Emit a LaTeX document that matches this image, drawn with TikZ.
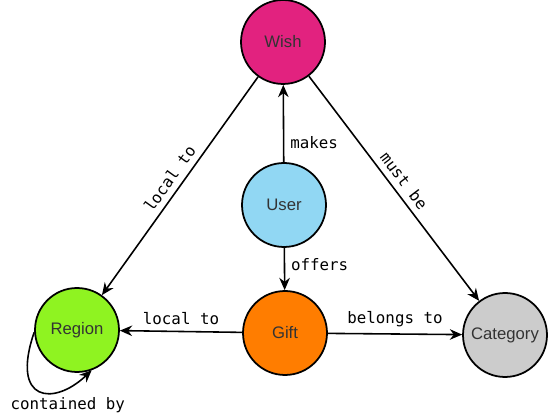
\documentclass[tikz,border=0pt]{standalone}
\usepackage{fontspec}
\setmainfont{Liberation Sans}
\setmonofont{DejaVu Sans Mono}
\usetikzlibrary{arrows.meta}
\definecolor{wishpink}{HTML}{E2227F}
\definecolor{userblue}{HTML}{91D7F3}
\definecolor{giftorange}{HTML}{FF7D00}
\definecolor{regiongreen}{HTML}{8FF321}
\definecolor{categorygray}{HTML}{CCCCCC}
\definecolor{nodetext}{HTML}{333333}

\begin{document}
\begin{tikzpicture}[x=0.02cm, y=0.02cm,
                        entity/.style={circle, draw, line width=1pt, minimum size=1.68cm, inner sep=0pt,
                                       font=\fontsize{9.5}{11}\selectfont, text=nodetext},
                        rel/.style={line width=0.9pt, -{Stealth[length=7pt, width=6pt]}},
                        lbl/.style={font=\ttfamily\fontsize{9}{11}\selectfont}]
                        \useasboundingbox (0,0) rectangle (550,418);
                        \node[entity, fill=wishpink] (wish) at (283,376) {Wish};
                        \node[entity, fill=userblue] (user) at (284,213) {User};
                        \node[entity, fill=giftorange] (gift) at (285,85) {Gift};
                        \node[entity, fill=regiongreen] (region) at (77,88) {Region};
                        \node[entity, fill=categorygray] (category) at (505,83) {Category};
                        \draw[rel] (user) -- node[lbl, right, pos=0.25]{makes} (wish);
                        \draw[rel] (user) -- node[lbl, right, pos=0.4]{offers} (gift);
                        \draw[rel] (wish) -- node[lbl, sloped, above]{local to} (region);
                        \draw[rel] (wish) -- node[lbl, sloped, above]{must be} (category);
                        \draw[rel] (gift) -- node[lbl, above]{local to} (region);
                        \draw[rel] (gift) -- node[lbl, above]{belongs to} (category);
                        \draw[rel] (region.183) .. controls +(-24,-70) and +(-38,-36) ..
                            node[lbl, below, pos=0.5, xshift=16]{contained by} (region.-70);
                    \end{tikzpicture}
\end{document}
